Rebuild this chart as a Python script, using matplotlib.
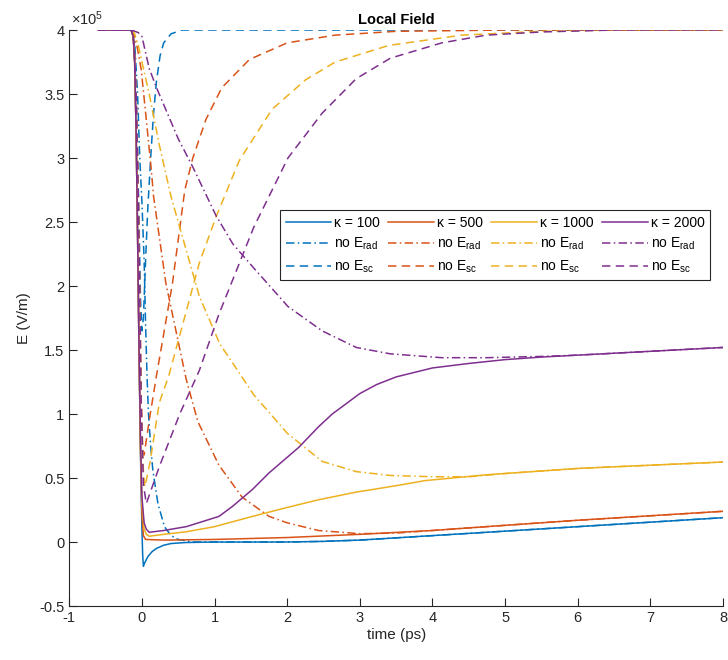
import matplotlib
matplotlib.use("Agg")
import matplotlib.pyplot as plt
from matplotlib.ticker import FuncFormatter

# DATA (field in units of 1e5 V/m, time in ps)

SCALE = 1e5

# kappa = 100
t_k100 = [-0.6, -0.15, -0.12, -0.1, -0.08, -0.06, -0.04, -0.02, 0.0, 0.01, 0.02, 0.04, 0.08, 0.14, 0.2, 0.3, 0.4, 0.6, 1.0, 2.0, 2.5, 3.0, 4.0, 5.0, 6.0, 7.0, 8.0]
e_k100 = [4.0, 4.0, 3.95, 3.75, 3.2, 2.4, 1.5, 0.7, 0.1, -0.1, -0.19, -0.16, -0.115, -0.075, -0.05, -0.025, -0.012, -0.004, 0.0, 0.0, 0.005, 0.015, 0.05, 0.085, 0.12, 0.155, 0.19]
t_k100_norad = [-0.6, -0.14, -0.1, -0.06, -0.03, 0.0, 0.03, 0.05, 0.07, 0.09, 0.12, 0.15, 0.22, 0.31, 0.4, 0.5, 0.7, 1.0, 2.0, 2.5, 3.0, 4.0, 5.0, 6.0, 7.0, 8.0]
e_k100_norad = [4.0, 4.0, 3.9, 3.5, 3.0, 2.65, 2.2, 1.7, 1.3, 1.0, 0.75, 0.56, 0.30, 0.12, 0.05, 0.02, 0.0, 0.0, 0.0, 0.005, 0.015, 0.05, 0.085, 0.12, 0.155, 0.19]
t_k100_nosc = [-0.6, -0.13, -0.1, -0.07, -0.04, -0.02, 0.0, 0.02, 0.05, 0.08, 0.12, 0.16, 0.2, 0.25, 0.3, 0.4, 0.55, 8.0]
e_k100_nosc = [4.0, 4.0, 3.85, 3.3, 2.5, 1.9, 1.65, 1.75, 2.2, 2.6, 3.0, 3.35, 3.6, 3.8, 3.9, 3.97, 4.0, 4.0]

# kappa = 500
t_k500 = [-0.6, -0.15, -0.12, -0.1, -0.08, -0.06, -0.04, -0.02, 0.0, 0.02, 0.05, 0.3, 1.0, 2.0, 3.0, 4.0, 4.74, 6.0, 7.0, 8.0]
e_k500 = [4.0, 4.0, 3.95, 3.75, 3.2, 2.4, 1.5, 0.7, 0.2, 0.05, 0.02, 0.015, 0.02, 0.035, 0.06, 0.09, 0.12, 0.17, 0.205, 0.24]
t_k500_norad = [-0.6, -0.14, -0.1, -0.06, -0.01, 0.06, 0.13, 0.16, 0.33, 0.61, 0.77, 1.06, 1.38, 1.75, 2.0, 2.43, 3.0, 3.5, 4.0, 4.74, 6.0, 7.0, 8.0]
e_k500_norad = [4.0, 4.0, 3.95, 3.85, 3.69, 3.3, 2.9, 2.7, 2.02, 1.27, 0.94, 0.6, 0.35, 0.2, 0.15, 0.09, 0.065, 0.07, 0.09, 0.12, 0.17, 0.205, 0.24]
t_k500_nosc = [-0.6, -0.14, -0.11, -0.08, -0.05, -0.03, -0.01, 0.01, 0.03, 0.1, 0.2, 0.42, 0.59, 0.7, 0.88, 1.1, 1.48, 2.0, 2.66, 3.5, 5.0, 8.0]
e_k500_nosc = [4.0, 4.0, 3.9, 3.5, 2.7, 1.9, 1.1, 0.72, 0.68, 0.95, 1.3, 2.02, 2.75, 3.0, 3.3, 3.55, 3.77, 3.9, 3.96, 3.99, 4.0, 4.0]

# kappa = 1000
t_k1000 = [-0.6, -0.15, -0.12, -0.1, -0.08, -0.06, -0.04, -0.02, 0.0, 0.03, 0.06, 0.1, 0.3, 0.61, 1.0, 1.52, 2.0, 2.43, 2.95, 3.5, 3.9, 4.74, 5.5, 6.0, 7.0, 8.0]
e_k1000 = [4.0, 4.0, 3.95, 3.75, 3.2, 2.4, 1.5, 0.75, 0.3, 0.1, 0.06, 0.045, 0.06, 0.08, 0.12, 0.2, 0.27, 0.33, 0.39, 0.44, 0.48, 0.525, 0.555, 0.575, 0.6, 0.625]
t_k1000_norad = [-0.6, -0.14, -0.1, -0.05, 0.0, 0.1, 0.24, 0.4, 0.79, 1.07, 1.54, 2.0, 2.48, 2.95, 3.42, 4.0, 4.5, 5.0, 5.5, 6.0, 7.0, 8.0]
e_k1000_norad = [4.0, 4.0, 3.97, 3.88, 3.75, 3.5, 3.1, 2.7, 1.92, 1.55, 1.15, 0.85, 0.63, 0.55, 0.52, 0.51, 0.51, 0.535, 0.555, 0.575, 0.6, 0.625]
t_k1000_nosc = [-0.6, -0.14, -0.11, -0.08, -0.05, -0.03, -0.01, 0.02, 0.04, 0.11, 0.24, 0.37, 0.79, 1.02, 1.34, 1.79, 2.25, 2.66, 3.4, 4.4, 5.5, 6.5, 8.0]
e_k1000_nosc = [4.0, 4.0, 3.9, 3.5, 2.7, 1.9, 1.1, 0.55, 0.43, 0.62, 1.09, 1.3, 2.18, 2.54, 2.98, 3.38, 3.61, 3.75, 3.88, 3.96, 3.99, 4.0, 4.0]

# kappa = 2000
t_k2000 = [-0.6, -0.15, -0.12, -0.1, -0.08, -0.06, -0.04, -0.02, 0.0, 0.03, 0.06, 0.1, 0.3, 0.61, 1.06, 1.25, 1.52, 1.75, 2.16, 2.43, 2.62, 3.0, 3.23, 3.5, 4.0, 4.5, 5.0, 5.5, 6.0, 7.0, 8.0]
e_k2000 = [4.0, 4.0, 3.95, 3.75, 3.2, 2.4, 1.5, 0.8, 0.35, 0.15, 0.1, 0.076, 0.09, 0.12, 0.2, 0.28, 0.41, 0.54, 0.74, 0.9, 1.0, 1.16, 1.23, 1.29, 1.36, 1.395, 1.425, 1.445, 1.46, 1.49, 1.52]
t_k2000_norad = [-0.6, -0.14, -0.1, -0.05, 0.0, 0.1, 0.2, 0.35, 0.5, 0.7, 1.02, 1.25, 1.54, 2.01, 2.48, 2.95, 3.42, 4.13, 4.74, 5.5, 6.0, 7.0, 8.0]
e_k2000_norad = [4.0, 4.0, 3.99, 3.98, 3.95, 3.7, 3.55, 3.35, 3.15, 2.93, 2.55, 2.33, 2.14, 1.84, 1.65, 1.52, 1.47, 1.44, 1.44, 1.45, 1.46, 1.49, 1.52]
t_k2000_nosc = [-0.6, -0.14, -0.11, -0.08, -0.05, -0.03, -0.01, 0.02, 0.06, 0.24, 0.52, 0.79, 1.06, 1.54, 2.01, 2.48, 2.95, 3.42, 4.13, 4.74, 5.5, 6.5, 8.0]
e_k2000_nosc = [4.0, 4.0, 3.9, 3.5, 2.7, 1.9, 1.1, 0.45, 0.30, 0.59, 1.0, 1.34, 1.78, 2.46, 3.0, 3.35, 3.62, 3.78, 3.9, 3.96, 3.985, 4.0, 4.0]

kappas = [100, 500, 1000, 2000]
series = [
    (t_k100, e_k100, t_k100_norad, e_k100_norad, t_k100_nosc, e_k100_nosc),
    (t_k500, e_k500, t_k500_norad, e_k500_norad, t_k500_nosc, e_k500_nosc),
    (t_k1000, e_k1000, t_k1000_norad, e_k1000_norad, t_k1000_nosc, e_k1000_nosc),
    (t_k2000, e_k2000, t_k2000_norad, e_k2000_norad, t_k2000_nosc, e_k2000_nosc),
]

# STYLE

colors = ['#0072BD', '#D95319', '#EDB120', '#7E2F8E']
axis_col = '#262626'

plt.rcParams['font.family'] = ['Liberation Sans', 'DejaVu Sans']
plt.rcParams['mathtext.fontset'] = 'custom'
plt.rcParams['mathtext.rm'] = 'Liberation Sans'
plt.rcParams['mathtext.it'] = 'Liberation Sans:italic'
plt.rcParams['axes.unicode_minus'] = False

fig = plt.figure(figsize=(7.28, 6.6), dpi=100)
ax = fig.add_axes([0.0952, 0.0818, 0.898, 0.8727])

lw = 1.1
dashdot = (0, (5.5, 2.2, 1.0, 2.2))
dashed = (0, (5.5, 3.5))

for k, c, (t1, e1, t2, e2, t3, e3) in zip(kappas, colors, series):
    ax.plot(t1, [v * SCALE for v in e1], color=c, lw=lw, label='\u03ba = %d' % k)
    ax.plot(t2, [v * SCALE for v in e2], color=c, lw=lw, ls=dashdot, label='no E$_{\\rm rad}$')
    ax.plot(t3, [v * SCALE for v in e3], color=c, lw=lw, ls=dashed, label='no E$_{\\rm sc}$')

# AXES

ax.set_xlim(-1, 8)
ax.set_ylim(-0.5 * SCALE, 4 * SCALE)
ax.set_xticks(range(-1, 9))
ax.set_yticks([v * SCALE for v in [-0.5, 0, 0.5, 1, 1.5, 2, 2.5, 3, 3.5, 4]])
ax.yaxis.set_major_formatter(FuncFormatter(lambda v, p: '%g' % (v / SCALE)))
ax.tick_params(direction='in', length=6, width=0.8, colors=axis_col, labelsize=10.5)
for s in ['top', 'right']:
    ax.spines[s].set_visible(False)
for s in ['left', 'bottom']:
    ax.spines[s].set_color(axis_col)
    ax.spines[s].set_linewidth(0.8)

ax.text(0.003, 1.003, '$\\times$10$^{5}$', transform=ax.transAxes, ha='left', va='bottom',
        fontsize=10.5, color=axis_col)
ax.set_title('Local Field', fontsize=10.5, fontweight='bold', color='black', pad=4)
ax.set_xlabel('time (ps)', fontsize=11, color=axis_col, labelpad=2)
ax.set_ylabel('E (V/m)', fontsize=11, color=axis_col, labelpad=6)

leg = ax.legend(ncol=4, loc='upper left', bbox_to_anchor=(0.3223, 0.6875), borderaxespad=0,
                fontsize=10, handlelength=3.3, handletextpad=0.2, columnspacing=0.6,
                labelspacing=0.45, borderpad=0.4, fancybox=False, framealpha=1)
leg.get_frame().set_edgecolor(axis_col)
leg.get_frame().set_linewidth(0.8)

fig.savefig('out.png', dpi=100)
